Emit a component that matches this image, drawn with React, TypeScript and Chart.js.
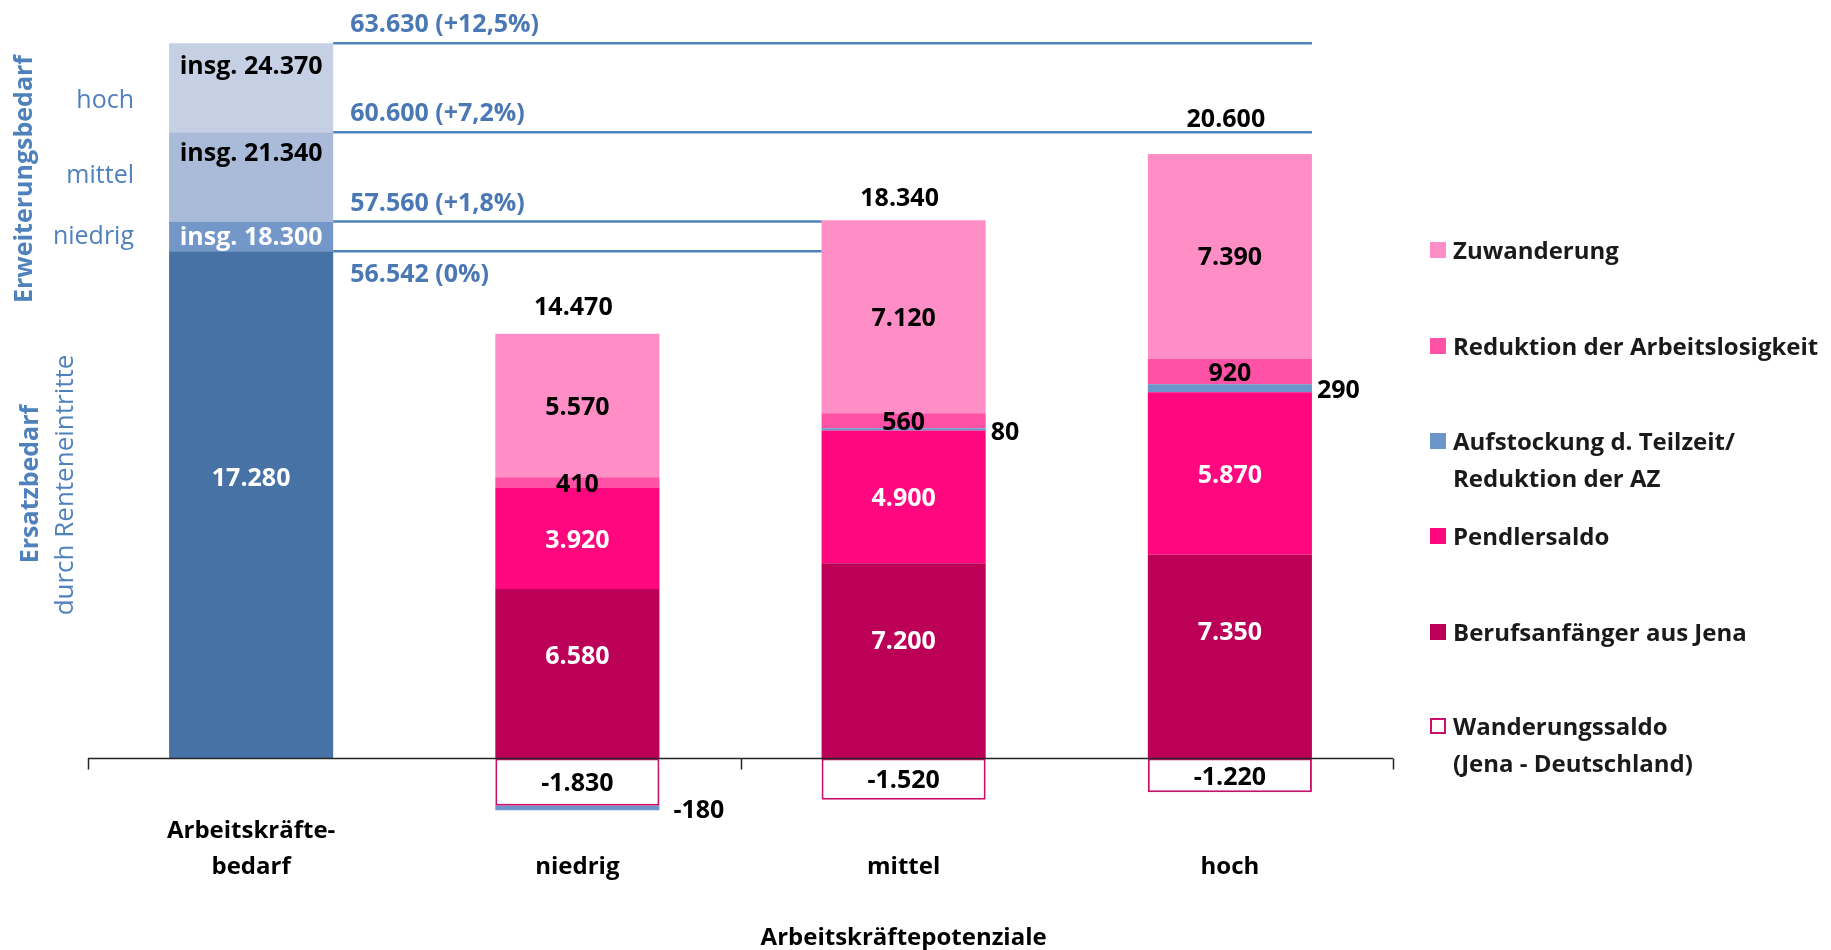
import { useEffect, useRef } from "react";
import { Chart, registerables } from "chart.js";

Chart.register(...registerables);

const FONT = "'Open Sans', 'Noto Sans', sans-serif";

// ---------- data ----------
const categories: (string | string[])[] = [["Arbeitskräfte-", "bedarf"], "niedrig", "mittel", "hoch"];
const ersatzbedarf = 17280;
const bedarfSzenarien = ["niedrig", "mittel", "hoch"];
const bedarfInsgesamt = [18300, 21340, 24370];
const gesamtBeschaeftigte = [56542, 57560, 60600, 63630];
const gesamtVeraenderung = ["0%", "+1,8%", "+7,2%", "+12,5%"];

const berufsanfaenger = [6580, 7200, 7350];
const pendlersaldo = [3920, 4900, 5870];
const aufstockung = [-180, 80, 290];
const reduktionAL = [410, 560, 920];
const zuwanderung = [5570, 7120, 7390];
const wanderungssaldo = [-1830, -1520, -1220];
const potenzialGesamt = [14470, 18340, 20600];

// ---------- derived ----------
const bedarfStufen = [ersatzbedarf, ...bedarfInsgesamt];
const bedarfZuwachs = bedarfInsgesamt.map((v, i) => v - bedarfStufen[i]);
const positiveSum = potenzialGesamt.map((_, i) =>
  [berufsanfaenger, pendlersaldo, aufstockung, reduktionAL, zuwanderung].reduce((s, a) => s + Math.max(0, a[i]), 0)
);
// bars are drawn so that the positive stack reaches the net total (as in the original)
const factor = potenzialGesamt.map((t, i) => t / positiveSum[i]);
const pot = (arr: number[]) => [null, ...arr.map((v, i) => v * factor[i])];
const bed = (v: number) => [v, null, null, null];

const C = {
  ersatz: "#4672A6",
  niedrig: "#7297C8",
  mittel: "#AABBD9",
  hoch: "#C5D0E5",
  line: "#4F81BD",
  lineText: "#4A78B5",
  zuw: "#FF8DC6",
  red: "#FF52A6",
  auf: "#6B95CB",
  pend: "#FF077F",
  beruf: "#BC0058",
  wand: "#C8106A",
};

const fmt = (n: number) => {
  const s = Math.round(Math.abs(n)).toString().replace(/\B(?=(\d{3})+(?!\d))/g, ".");
  return (n < 0 ? "-" : "") + s;
};

// layout tweaks (pixels) for labels
const TDY = 2;
const berufDy = [-19, -21, -26];
const totalDy = [-28, -23, -36];

const legendItems = [
  { ds: 9, lines: ["Zuwanderung"], y: 250 },
  { ds: 8, lines: ["Reduktion der Arbeitslosigkeit"], y: 346 },
  { ds: 7, lines: ["Aufstockung d. Teilzeit/", "Reduktion der AZ"], y: 441 },
  { ds: 5, lines: ["Pendlersaldo"], y: 536 },
  { ds: 4, lines: ["Berufsanfänger aus Jena"], y: 632 },
  { ds: 6, lines: ["Wanderungssaldo", "(Jena - Deutschland)"], y: 726 },
];

const font = (size: number, weight: string | number = "bold") => `${weight} ${size}px ${FONT}`;

const overlay = {
  id: "overlay",
  afterDatasetsDraw(chart: any) {
    const { ctx } = chart;
    const xs = chart.scales.x;
    const ys = chart.scales.y;
    const el = (d: number, i: number) => chart.getDatasetMeta(d).data[i] as any;
    ctx.save();

    // baseline + ticks
    const y0 = ys.getPixelForValue(0);
    ctx.strokeStyle = "#262626";
    ctx.lineWidth = 1.5;
    ctx.beginPath();
    ctx.moveTo(xs.left, y0);
    ctx.lineTo(xs.right, y0);
    for (const v of [-0.5, 1.5, 3.5]) {
      const px = Math.round(xs.getPixelForValue(v)) + 0.5;
      ctx.moveTo(px, y0);
      ctx.lineTo(px, y0 + 11);
    }
    ctx.stroke();

    // level lines
    const b0 = el(0, 0);
    const x0 = b0.x + b0.width / 2;
    const mid = el(9, 2);
    const hoch = el(9, 3);
    const ends = [mid.x - mid.width / 2, mid.x - mid.width / 2, hoch.x + hoch.width / 2, hoch.x + hoch.width / 2];
    ctx.strokeStyle = C.line;
    ctx.lineWidth = 2.5;
    bedarfStufen.forEach((v, i) => {
      const py = ys.getPixelForValue(v);
      ctx.beginPath();
      ctx.moveTo(x0, py);
      ctx.lineTo(ends[i], py);
      ctx.stroke();
    });
    ctx.fillStyle = C.lineText;
    ctx.font = font(25);
    ctx.textAlign = "left";
    ctx.textBaseline = "middle";
    bedarfStufen.forEach((v, i) => {
      const py = ys.getPixelForValue(v) + (i === 0 ? 24 : -18);
      ctx.fillText(`${fmt(gesamtBeschaeftigte[i])} (${gesamtVeraenderung[i]})`, x0 + 17, py);
    });

    // segment labels
    const txt = (t: string, x: number, y: number, color: string, align: CanvasTextAlign = "center", f = font(25)) => {
      ctx.font = f;
      ctx.fillStyle = color;
      ctx.textAlign = align;
      ctx.textBaseline = "middle";
      ctx.fillText(t, x, y + TDY);
    };
    const center = (d: number, i: number, t: string, color: string, dy = 0) => {
      const e = el(d, i);
      txt(t, e.x, (e.y + e.base) / 2 + dy, color);
    };
    center(0, 0, fmt(ersatzbedarf), "#fff", -28);
    center(1, 0, "insg. " + fmt(bedarfInsgesamt[0]), "#fff");
    {
      const e2 = el(2, 0);
      txt("insg. " + fmt(bedarfInsgesamt[1]), e2.x, e2.y + 20, "#000");
      const e3 = el(3, 0);
      txt("insg. " + fmt(bedarfInsgesamt[2]), e3.x, e3.y + 22, "#000");
    }
    for (let k = 0; k < 3; k++) {
      const i = k + 1;
      center(4, i, fmt(berufsanfaenger[k]), "#fff", berufDy[k]);
      center(5, i, fmt(pendlersaldo[k]), "#fff");
      center(6, i, fmt(wanderungssaldo[k]), "#000");
      center(8, i, fmt(reduktionAL[k]), "#000");
      center(9, i, fmt(zuwanderung[k]), "#000");
      const a = el(7, i);
      const gap = aufstockung[k] < 0 ? 14 : 5;
      txt(fmt(aufstockung[k]), a.x + a.width / 2 + gap, (a.y + a.base) / 2 + 1, "#000", "left");
      const z = el(9, i);
      txt(fmt(potenzialGesamt[k]), z.x - 4, z.y + totalDy[k], "#000");
    }

    // left scenario labels
    const scenDy = [-1, -3, 11];
    bedarfSzenarien.forEach((s, i) => {
      const py = ys.getPixelForValue((bedarfStufen[i] + bedarfStufen[i + 1]) / 2) + scenDy[i];
      txt(s, 134, py, C.line, "right", font(25, "normal"));
    });

    // rotated titles
    const rot = (t: string, x: number, y: number, f: string) => {
      ctx.save();
      ctx.translate(x, y);
      ctx.rotate(-Math.PI / 2);
      ctx.font = f;
      ctx.fillStyle = C.line;
      ctx.textAlign = "center";
      ctx.textBaseline = "middle";
      ctx.fillText(t, 0, 0);
      ctx.restore();
    };
    rot("Erweiterungsbedarf", 25, 179, font(25));
    rot("Ersatzbedarf", 31, 484, font(25));
    rot("durch Renteneintritte", 66, 485, font(26, "normal"));

    // x axis title
    txt("Arbeitskräftepotenziale", (xs.getPixelForValue(1) + xs.getPixelForValue(3)) / 2, 936, "#000", "center", font(24));

    // legend
    legendItems.forEach((it) => {
      const ds = chart.data.datasets[it.ds];
      const sx = 1430;
      const sy = it.y - 8;
      if (it.ds === 6) {
        ctx.fillStyle = "#fff";
        ctx.fillRect(sx, sy, 16, 16);
        ctx.strokeStyle = C.wand;
        ctx.lineWidth = 2;
        ctx.strokeRect(sx + 1, sy + 1, 14, 14);
      } else {
        ctx.fillStyle = ds.backgroundColor;
        ctx.fillRect(sx, sy, 16, 16);
      }
      it.lines.forEach((l, j) => txt(l, 1453, it.y + j * 37, "#1a1a1a", "left", font(24)));
    });

    ctx.restore();
  },
};

export default function App() {
  const ref = useRef<HTMLCanvasElement>(null);
  useEffect(() => {
    if (!ref.current) return;
    const common = { stack: "s", borderWidth: 0 };
    const chart = new Chart(ref.current, {
      type: "bar",
      data: {
        labels: categories,
        datasets: [
          { ...common, label: "Ersatzbedarf durch Renteneintritte", data: bed(ersatzbedarf), backgroundColor: C.ersatz },
          { ...common, label: "Erweiterungsbedarf niedrig", data: bed(bedarfZuwachs[0]), backgroundColor: C.niedrig },
          { ...common, label: "Erweiterungsbedarf mittel", data: bed(bedarfZuwachs[1]), backgroundColor: C.mittel },
          { ...common, label: "Erweiterungsbedarf hoch", data: bed(bedarfZuwachs[2]), backgroundColor: C.hoch },
          { ...common, label: "Berufsanfänger aus Jena", data: pot(berufsanfaenger), backgroundColor: C.beruf },
          { ...common, label: "Pendlersaldo", data: pot(pendlersaldo), backgroundColor: C.pend },
          {
            ...common,
            label: "Wanderungssaldo (Jena - Deutschland)",
            data: pot(wanderungssaldo),
            backgroundColor: "#ffffff",
            borderColor: C.wand,
            borderWidth: 2,
            borderSkipped: false,
          },
          { ...common, label: "Aufstockung d. Teilzeit/Reduktion der AZ", data: pot(aufstockung), backgroundColor: C.auf },
          { ...common, label: "Reduktion der Arbeitslosigkeit", data: pot(reduktionAL), backgroundColor: C.red },
          { ...common, label: "Zuwanderung", data: pot(zuwanderung), backgroundColor: C.zuw },
        ] as any,
      },
      options: {
        animation: false,
        responsive: true,
        maintainAspectRatio: false,
        devicePixelRatio: 1,
        layout: { padding: { left: 88, right: 438, top: 0, bottom: 0 } },
        datasets: { bar: { categoryPercentage: 1, barPercentage: 0.503, clip: false } } as any,
        plugins: { legend: { display: false }, tooltip: { enabled: false }, title: { display: false } },
        scales: {
          x: {
            stacked: true,
            grid: { display: false, drawTicks: false },
            border: { display: false },
            ticks: {
              font: { family: FONT, size: 24, weight: "bold", lineHeight: 1.5 },
              color: "#000",
              padding: 31,
              crossAlign: "far",
              maxRotation: 0,
              autoSkip: false,
            },
            afterFit: (s: any) => {
              s.height = 150;
            },
          },
          y: { stacked: true, display: false, min: -1414, max: 25843 },
        },
      } as any,
      plugins: [overlay],
    });
    return () => chart.destroy();
  }, []);
  return (
    <div style={{ position: "fixed", left: 0, top: 0, width: 1831, height: 950, background: "#fff" }}>
      <canvas ref={ref} />
    </div>
  );
}
